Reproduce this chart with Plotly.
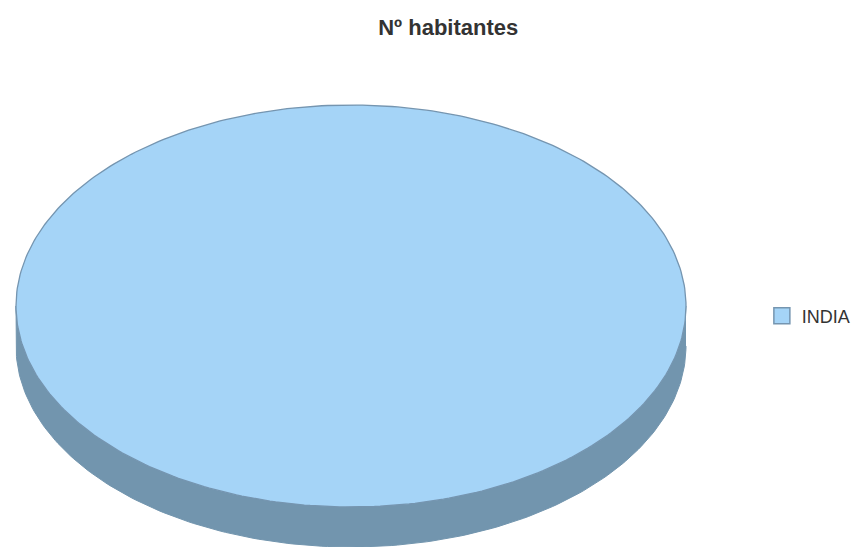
import numpy as np
import plotly.graph_objects as go

# Data
categories = ["INDIA"]
values = [1]
title_text = "Nº habitantes"

W, H = 857, 547
cx, cy = 351, 306
rx, ry = 335, 201
depth = 40

top_color = "#A5D4F7"
side_color = "#7295AE"
line_color = "#7595B0"

fig = go.Figure()
total = sum(values)
start = 0.0
for cat, v in zip(categories, values):
    frac = v / total
    a = np.linspace(start, start + 2 * np.pi * frac, 361)
    start += 2 * np.pi * frac
    # side (visible lower half)
    b = np.linspace(0, np.pi, 181)
    sx = cx + rx * np.cos(b)
    sy = cy + ry * np.sin(b)
    side_x = np.concatenate([sx, sx[::-1]])
    side_y = np.concatenate([sy, (sy + depth)[::-1]])
    fig.add_trace(go.Scatter(x=side_x, y=side_y, fill="toself", mode="lines",
                             fillcolor=side_color, line=dict(color=side_color, width=1),
                             showlegend=False, hoverinfo="skip", legendgroup=cat))
    tx = cx + rx * np.cos(a)
    ty = cy + ry * np.sin(a)
    if frac < 1:
        tx = np.concatenate([[cx], tx, [cx]])
        ty = np.concatenate([[cy], ty, [cy]])
    fig.add_trace(go.Scatter(x=tx, y=ty, fill="toself", mode="lines", name=cat,
                             fillcolor=top_color, line=dict(color=line_color, width=1.3),
                             hoverinfo="name", showlegend=False, legendgroup=cat))
    # legend entry
    fig.add_trace(go.Scatter(x=[None], y=[None], mode="markers", name=cat, legendgroup=cat,
                             marker=dict(symbol="square", size=22, color=top_color,
                                         line=dict(color=line_color, width=1.5))))

fig.update_layout(
    width=W, height=H,
    margin=dict(l=0, r=0, t=0, b=0),
    paper_bgcolor="white", plot_bgcolor="white",
    xaxis=dict(range=[0, W], visible=False, fixedrange=True),
    yaxis=dict(range=[H, 0], visible=False, fixedrange=True),
    title=dict(text="<b>" + title_text + "</b>", x=0.523, xanchor="center", y=0.951, yanchor="middle",
               font=dict(family="Liberation Sans, Arial, sans-serif", size=22, color="#333333")),
    legend=dict(x=0.889, y=0.422, xanchor="left", yanchor="middle",
                font=dict(family="Liberation Sans, Arial, sans-serif", size=18, color="#333333"),
                bgcolor="rgba(0,0,0,0)"),
    showlegend=True,
)

fig.write_html("out.html", config={"displayModeBar": False},
               post_script="document.body.style.margin='0';document.body.style.overflow='hidden';")
